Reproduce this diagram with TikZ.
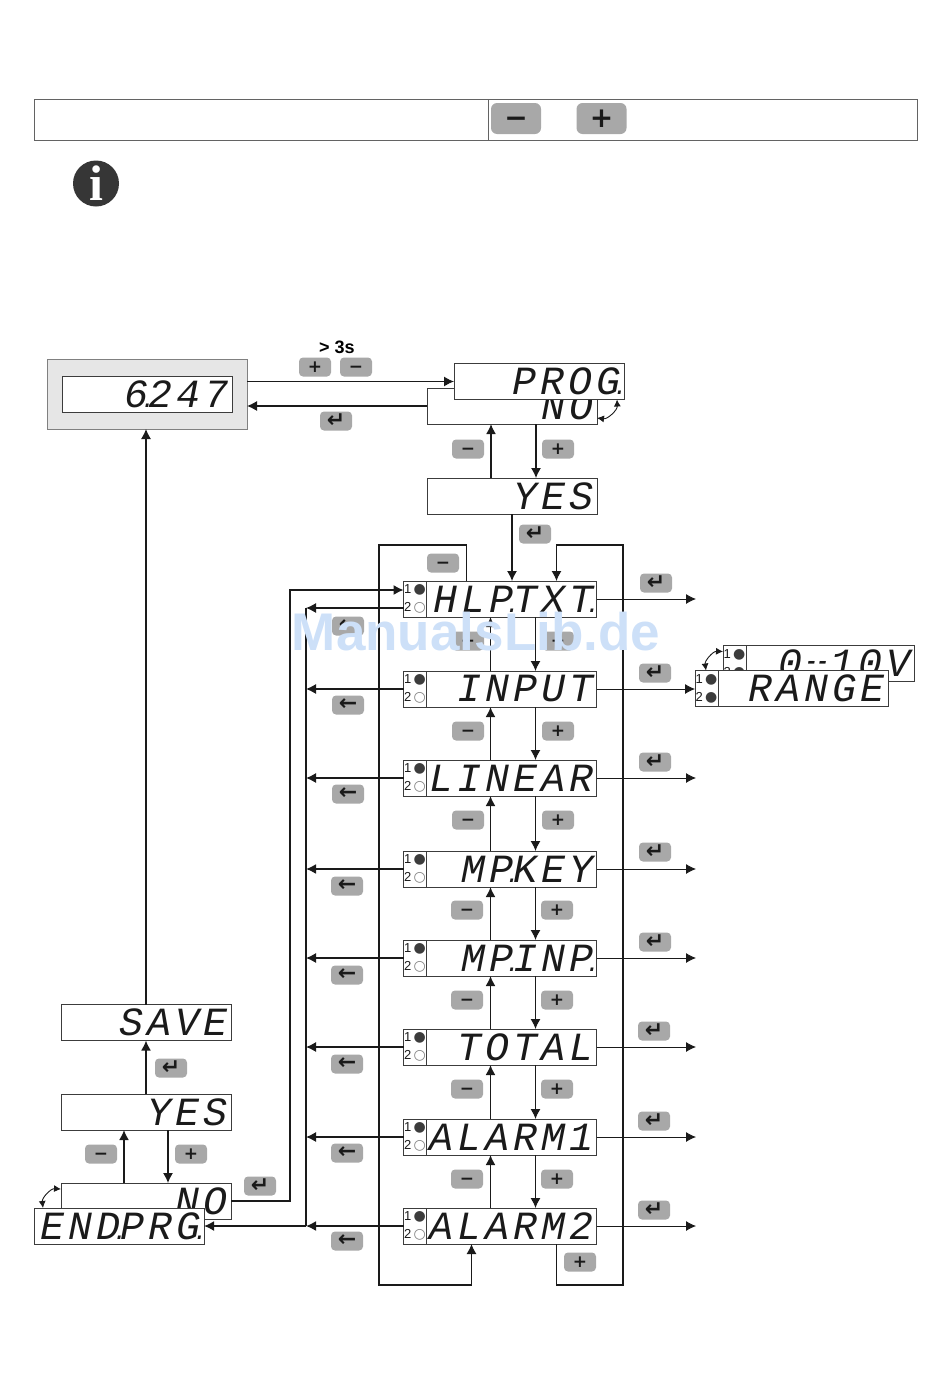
\documentclass[tikz,border=0pt]{standalone}
\usepackage{fontspec}
\setmainfont{Liberation Sans}
\usepackage{xcolor}
\usetikzlibrary{arrows.meta,positioning}
\newfontfamily\lcdfont[LetterSpace=10]{Liberation Mono}
\newfontfamily\symfont{DejaVu Sans}
\newfontfamily\infofont{Liberation Serif}
\definecolor{Frame}{HTML}{3C3C3C}
\definecolor{Panel}{HTML}{E6E6E6}
\definecolor{Key}{HTML}{A8A8A8}
\definecolor{Ink}{HTML}{1A1A1A}
\definecolor{Mark}{HTML}{CDE0F8}
\newcommand{\segdot}{\kern-8pt\rlap{\fontsize{24}{24}\selectfont .}\kern8pt}
\newcommand{\segdash}{\hbox to 28pt{\hss\raisebox{8pt}{\fontsize{22}{22}\selectfont\bfseries-\kern-2pt-}\hss}}
\newcommand{\ledfull}{{\symfont\fontsize{14}{14}\selectfont\textcolor{Frame}{●}}}
\newcommand{\ledopen}{{\symfont\fontsize{14}{14}\selectfont\textcolor{gray}{○}}}
\newcommand{\keyminus}{\raisebox{-.314em}[0pt][0pt]{−}}
\newcommand{\keyplus}{+}
\newcommand{\keyenter}{{\fontsize{22}{22}\selectfont ↵}}
\newcommand{\keyback}{{\fontsize{22}{22}\selectfont ←}}

\begin{document}
\begin{tikzpicture}[
  x=1pt,y=-1pt,
  line/.style={-{Latex[length=10pt,width=10pt]},line width=1.2pt,color=Ink},
  heavy/.style={line,line width=1.6pt},
  thin line/.style={line,line width=.8pt},
  flick/.style={{Latex[length=7pt,width=7pt]}-{Latex[length=7pt,width=7pt]},line width=.9pt,color=Ink},
  display/.style={draw=Frame,line width=1pt,fill=white,outer sep=0pt,minimum height=36pt,
                  minimum width=170pt,text width=164pt,inner xsep=3pt,inner ysep=0pt,align=right,
                  text=Ink,font=\lcdfont\itshape\fontsize{40}{40}\selectfont},
  led/.style={draw=Frame,line width=1pt,fill=white,outer sep=0pt,minimum height=36pt,minimum width=23pt,
              inner sep=0pt,align=left,text=Ink,font=\fontsize{13}{18}\selectfont},
  key/.style={fill=Key,rounded corners=4pt,minimum width=32pt,minimum height=19pt,inner sep=0pt,
              text=Ink,font=\symfont\bfseries\fontsize{17}{17}\selectfont},
  bigkey/.style={key,rounded corners=6pt,minimum width=50pt,minimum height=31pt,
                 font=\symfont\bfseries\fontsize{28}{28}\selectfont},
  cell/.style={draw=Frame!80,line width=.7pt,outer sep=0pt,minimum height=41pt}
]

  % header row
  \node[cell,minimum width=454pt] (headleft) at (261,119.5) {};
  \node[cell,minimum width=429pt] (headright) at (702.5,119.5) {};
  \node[bigkey] (headminus) at (516,118.5) {\keyminus};
  \node[bigkey] (headplus) at (601.5,118.5) {\keyplus};
  \node[circle,fill=Frame!90!black,minimum size=46pt,inner sep=0pt,text=white,
        font=\infofont\bfseries\fontsize{50}{50}\selectfont] (info) at (96,183.5) {i};

  % run display and start of programming
  \node[fill=Panel,draw=gray,line width=.8pt,minimum width=200pt,minimum height=70pt,outer sep=0pt] (panel) at (147,394) {};
  \node[display] (value) at (147,394) {6\segdot 247};
  \node[display] (prognoval) at (512,406) {NO};
  \node[display] (prog) at (539,381.5) {PROG\segdot};
  \node[display] (progyes) at (512,496) {YES};

  % menu
  \node[display] (hlptxt) at (511.5,599) {HLP\segdot TXT\segdot};
  \node[led,left=0pt of hlptxt] (hlptxtled) {1\,\ledfull\\2\,\ledopen};
  \node[display] (input) at (511.5,689) {INPUT};
  \node[led,left=0pt of input] (inputled) {1\,\ledfull\\2\,\ledopen};
  \node[display] (linear) at (511.5,778) {LINEAR};
  \node[led,left=0pt of linear] (linearled) {1\,\ledfull\\2\,\ledopen};
  \node[display] (mpkey) at (511.5,869) {MP\segdot KEY};
  \node[led,left=0pt of mpkey] (mpkeyled) {1\,\ledfull\\2\,\ledopen};
  \node[display] (mpinp) at (511.5,958) {MP\segdot INP\segdot};
  \node[led,left=0pt of mpinp] (mpinpled) {1\,\ledfull\\2\,\ledopen};
  \node[display] (total) at (511.5,1047) {TOTAL};
  \node[led,left=0pt of total] (totalled) {1\,\ledfull\\2\,\ledopen};
  \node[display] (alarmone) at (511.5,1137) {ALARM1};
  \node[led,left=0pt of alarmone] (alarmoneled) {1\,\ledfull\\2\,\ledopen};
  \node[display] (alarmtwo) at (511.5,1226) {ALARM2};
  \node[led,left=0pt of alarmtwo] (alarmtwoled) {1\,\ledfull\\2\,\ledopen};

  % range sub menu
  \node[display,minimum width=168pt,text width=162pt] (rangeval) at (830,663.5) {0\segdash 10V};
  \node[led,left=0pt of rangeval] (rangevalled) {1\,\ledfull\\2\,\ledfull};
  \node[display] (range) at (803,688.5) {RANGE};
  \node[led,left=0pt of range] (rangeled) {1\,\ledfull\\2\,\ledfull};

  % end of programming
  \node[display] (save) at (146,1022.5) {SAVE};
  \node[display] (endyes) at (146,1112) {YES};
  \node[display] (endno) at (146,1201) {NO};
  \node[display] (endprg) at (119,1226) {END\segdot PRG\segdot};

  % free ends and corners
  \coordinate (exit) at (696,0);
  \coordinate (bus) at (306,0);
  \coordinate (feed) at (290,0);
  \coordinate (looptl) at (379,545);
  \coordinate (loopbr) at (623,1285);

  \draw[line] (prog.west -| panel.east) -- (prog.west);
  \draw[line] (prognoval.west) -- (prognoval.west -| panel.east);
  \draw[heavy] ([xshift=-21pt]progyes.north) -- ([xshift=-21pt]prognoval.south);
  \draw[line] ([xshift=24pt]prognoval.south) -- ([xshift=24pt]progyes.north);
  \draw[line] (progyes.south) -- (progyes.south |- hlptxt.north);
  \draw[flick] ([xshift=-7pt]prog.south east) to[bend left=50] ([yshift=-12pt]prognoval.east);

  \draw[line] ([xshift=-45pt]hlptxt.north) |- (looptl) |- ([xshift=-40pt]alarmtwo.south |- loopbr) -- ([xshift=-40pt]alarmtwo.south);
  \draw[line] ([xshift=45pt]alarmtwo.south) |- (loopbr) |- ([xshift=45pt]hlptxt.north |- looptl) -- ([xshift=45pt]hlptxt.north);

  \draw[heavy] ([xshift=-21pt]input.north) -- ([xshift=-21pt]hlptxt.south);
  \draw[line] ([xshift=24pt]hlptxt.south) -- ([xshift=24pt]input.north);
  \draw[heavy] ([xshift=-21pt]linear.north) -- ([xshift=-21pt]input.south);
  \draw[line] ([xshift=24pt]input.south) -- ([xshift=24pt]linear.north);
  \draw[heavy] ([xshift=-21pt]mpkey.north) -- ([xshift=-21pt]linear.south);
  \draw[line] ([xshift=24pt]linear.south) -- ([xshift=24pt]mpkey.north);
  \draw[heavy] ([xshift=-21pt]mpinp.north) -- ([xshift=-21pt]mpkey.south);
  \draw[line] ([xshift=24pt]mpkey.south) -- ([xshift=24pt]mpinp.north);
  \draw[heavy] ([xshift=-21pt]total.north) -- ([xshift=-21pt]mpinp.south);
  \draw[line] ([xshift=24pt]mpinp.south) -- ([xshift=24pt]total.north);
  \draw[heavy] ([xshift=-21pt]alarmone.north) -- ([xshift=-21pt]total.south);
  \draw[line] ([xshift=24pt]total.south) -- ([xshift=24pt]alarmone.north);
  \draw[heavy] ([xshift=-21pt]alarmtwo.north) -- ([xshift=-21pt]alarmone.south);
  \draw[line] ([xshift=24pt]alarmone.south) -- ([xshift=24pt]alarmtwo.north);

  \draw[thin line] (hlptxt.east) -- (hlptxt.east -| exit);
  \draw[thin line] (input.east) -- (input.east -| rangeled.west);
  \draw[thin line] (linear.east) -- (linear.east -| exit);
  \draw[thin line] (mpkey.east) -- (mpkey.east -| exit);
  \draw[thin line] (mpinp.east) -- (mpinp.east -| exit);
  \draw[thin line] (total.east) -- (total.east -| exit);
  \draw[thin line] (alarmone.east) -- (alarmone.east -| exit);
  \draw[thin line] (alarmtwo.east) -- (alarmtwo.east -| exit);

  \draw[line] ([yshift=-9pt]hlptxtled.west) -- ([yshift=-9pt]hlptxtled.west -| bus);
  \draw[line] (inputled.west) -- (inputled.west -| bus);
  \draw[line] (linearled.west) -- (linearled.west -| bus);
  \draw[heavy] (mpkeyled.west) -- (mpkeyled.west -| bus);
  \draw[line] (mpinpled.west) -- (mpinpled.west -| bus);
  \draw[line] (totalled.west) -- (totalled.west -| bus);
  \draw[line] (alarmoneled.west) -- (alarmoneled.west -| bus);
  \draw[heavy] (alarmtwoled.west) -- (alarmtwoled.west -| bus);
  \draw[heavy,-] ([yshift=-9pt]hlptxtled.west -| bus) -- (alarmtwoled.west -| bus);
  \draw[heavy] (alarmtwoled.west -| bus) -- (endprg.east);
  \draw[line] (endno.east) -| ([yshift=9pt]hlptxtled.west -| feed) -- ([yshift=9pt]hlptxtled.west);

  \draw[heavy] ([xshift=-22pt]endno.north) -- ([xshift=-22pt]endyes.south);
  \draw[line] ([xshift=22pt]endyes.south) -- ([xshift=22pt]endno.north);
  \draw[heavy] (endyes.north) -- (save.south);
  \draw[line] (save.north) -- (save.north |- panel.south);
  \draw[flick] ([xshift=9pt]endprg.north west) to[bend left=50] ([yshift=12pt]endno.west);
  \draw[flick] ([xshift=11pt]rangeled.north west) to[bend left=50] ([yshift=12pt]rangevalled.west);

  % keys
  \node[font=\bfseries\fontsize{18}{18}\selectfont] (hold) at (337,347) {> 3s};
  \node[key] (startplus) at (315,367) {\keyplus};
  \node[key] (startminus) at (356,367) {\keyminus};
  \node[key] (startenter) at (336,421) {\keyenter};
  \node[key] (progminus) at (468,449) {\keyminus};
  \node[key] (progplus) at (558,449) {\keyplus};
  \node[key] (yesenter) at (535,534) {\keyenter};
  \node[key] (loopminus) at (443,563) {\keyminus};
  \node[key] (loopplus) at (580,1262) {\keyplus};

  \node[key] (hlptxtminus) at (468,641) {\keyminus};
  \node[key] (hlptxtplus) at (558,641) {\keyplus};
  \node[key] (inputminus) at (468,731) {\keyminus};
  \node[key] (inputplus) at (558,731) {\keyplus};
  \node[key] (linearminus) at (468,820) {\keyminus};
  \node[key] (linearplus) at (558,820) {\keyplus};
  \node[key] (mpkeyminus) at (467,910) {\keyminus};
  \node[key] (mpkeyplus) at (557,910) {\keyplus};
  \node[key] (mpinpminus) at (467,1000) {\keyminus};
  \node[key] (mpinpplus) at (557,1000) {\keyplus};
  \node[key] (totalminus) at (467,1089) {\keyminus};
  \node[key] (totalplus) at (557,1089) {\keyplus};
  \node[key] (alarmoneminus) at (467,1179) {\keyminus};
  \node[key] (alarmoneplus) at (557,1179) {\keyplus};

  \node[key] (hlptxtenter) at (656,583) {\keyenter};
  \node[key] (inputenter) at (655,673) {\keyenter};
  \node[key] (linearenter) at (655,762) {\keyenter};
  \node[key] (mpkeyenter) at (655,852) {\keyenter};
  \node[key] (mpinpenter) at (655,942) {\keyenter};
  \node[key] (totalenter) at (654,1031) {\keyenter};
  \node[key] (alarmoneenter) at (654,1121) {\keyenter};
  \node[key] (alarmtwoenter) at (654,1210) {\keyenter};

  \node[key] (hlptxtback) at (348,626) {\keyback};
  \node[key] (inputback) at (348,705) {\keyback};
  \node[key] (linearback) at (348,794) {\keyback};
  \node[key] (mpkeyback) at (347,886) {\keyback};
  \node[key] (mpinpback) at (347,975) {\keyback};
  \node[key] (totalback) at (347,1064) {\keyback};
  \node[key] (alarmoneback) at (347,1153) {\keyback};
  \node[key] (alarmtwoback) at (347,1241) {\keyback};

  \node[key] (endminus) at (101,1154) {\keyminus};
  \node[key] (endplus) at (191,1154) {\keyplus};
  \node[key] (endyesenter) at (171,1068) {\keyenter};
  \node[key] (endenter) at (260,1186) {\keyenter};

  % watermark
  \node[text=Mark,font=\bfseries\fontsize{53}{53}\selectfont] (mark) at (476,632) {ManualsLib.de};

  \useasboundingbox (0,0) rectangle (950,1373);
\end{tikzpicture}
\end{document}
